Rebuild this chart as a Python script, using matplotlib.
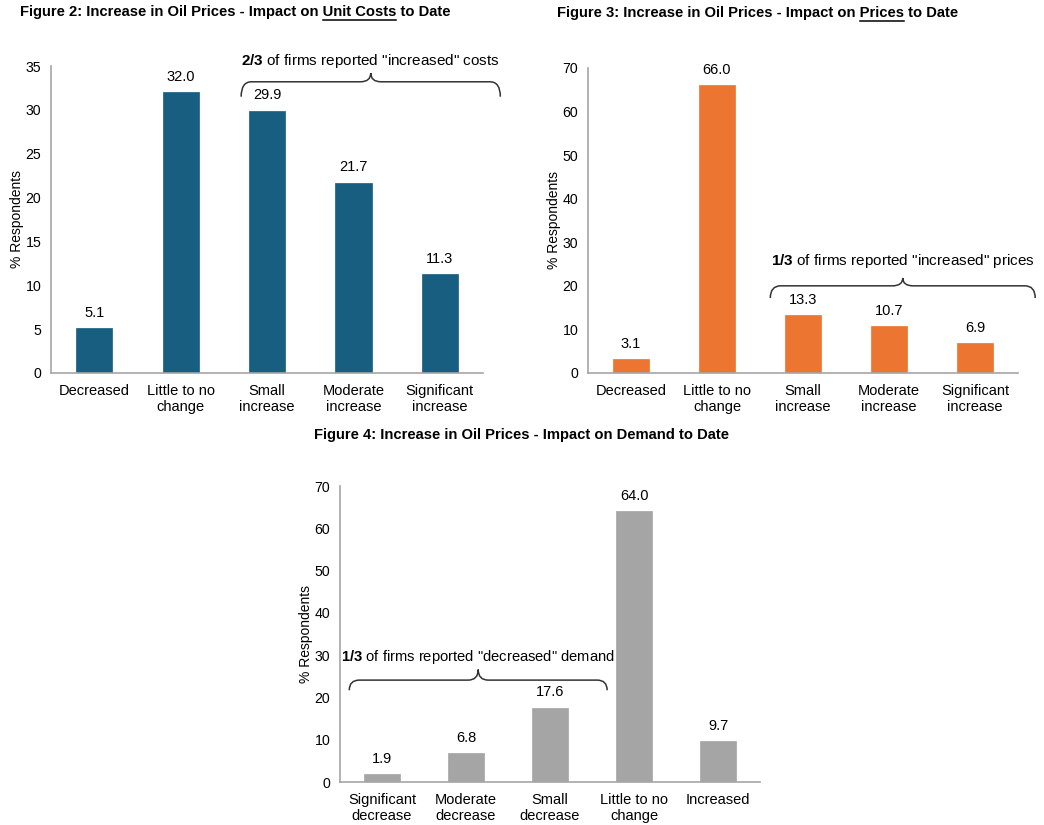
import matplotlib
matplotlib.use("Agg")
import matplotlib.pyplot as plt
from matplotlib.path import Path
from matplotlib.patches import PathPatch

plt.rcParams['font.family'] = ['Liberation Sans', 'DejaVu Sans']
plt.rcParams['mathtext.fontset'] = 'custom'
plt.rcParams['mathtext.rm'] = 'Liberation Sans'
plt.rcParams['mathtext.bf'] = 'Liberation Sans:bold'

# ---- data ----
cost_cats = ["Decreased", "Little to no\nchange", "Small\nincrease", "Moderate\nincrease", "Significant\nincrease"]
cost_vals = [5.1, 32.0, 29.9, 21.7, 11.3]

price_cats = ["Decreased", "Little to no\nchange", "Small\nincrease", "Moderate\nincrease", "Significant\nincrease"]
price_vals = [3.1, 66.0, 13.3, 10.7, 6.9]

demand_cats = ["Significant\ndecrease", "Moderate\ndecrease", "Small\ndecrease", "Little to no\nchange", "Increased"]
demand_vals = [1.9, 6.8, 17.6, 64.0, 9.7]

fig = plt.figure(figsize=(10.44, 8.25), dpi=100)

ax1 = fig.add_axes([0.0489, 0.5479, 0.4138, 0.3721])
ax2 = fig.add_axes([0.5632, 0.5479, 0.4119, 0.3697])
ax3 = fig.add_axes([0.3257, 0.0521, 0.4023, 0.3588])


def style(ax, cats, vals, color, ymax, ystep):
    x = range(len(cats))
    bars = ax.bar(x, vals, width=0.42, color=color, edgecolor=color, linewidth=0.5)
    ax.bar_label(bars, labels=[f"{v:.1f}" for v in vals], padding=6, fontsize=10.5)
    ax.set_xlim(-0.5, len(cats) - 0.5)
    ax.set_ylim(0, ymax)
    ax.set_yticks(range(0, ymax + 1, ystep))
    ax.set_xticks(list(x))
    ax.set_xticklabels(cats, fontsize=10.5, linespacing=1.2)
    ax.tick_params(axis='both', length=0)
    ax.tick_params(axis='y', pad=7, labelsize=10.2)
    ax.tick_params(axis='x', pad=8, labelsize=10.5)
    for s in ['top', 'right']:
        ax.spines[s].set_visible(False)
    for s in ['left', 'bottom']:
        ax.spines[s].set_color('#A6A6A6')
        ax.spines[s].set_linewidth(1.2)
    ax.set_ylabel("% Respondents", fontsize=10, labelpad=1)


style(ax1, cost_cats, cost_vals, '#175E80', 35, 5)
style(ax2, price_cats, price_vals, '#EC7532', 70, 10)
style(ax3, demand_cats, demand_vals, '#A5A5A5', 70, 10)


def brace(ax, x0, x1, ylow, yh, ytip, r=0.12):
    xm = (x0 + x1) / 2
    verts = [(x0, ylow), (x0, yh), (x0 + r, yh),
             (xm - r, yh), (xm, yh), (xm, ytip),
             (xm, yh), (xm + r, yh),
             (x1 - r, yh), (x1, yh), (x1, ylow)]
    codes = [Path.MOVETO, Path.CURVE3, Path.CURVE3,
             Path.LINETO, Path.CURVE3, Path.CURVE3,
             Path.CURVE3, Path.CURVE3,
             Path.LINETO, Path.CURVE3, Path.CURVE3]
    p = PathPatch(Path(verts, codes), facecolor='none', edgecolor='#333333',
                  lw=1.1, clip_on=False)
    ax.add_patch(p)


brace(ax1, 1.70, 4.70, 31.5, 33.2, 34.2)
ax1.text(3.2, 35.6, r'$\mathbf{2/3}$ of firms reported "increased" costs',
         ha='center', va='center', fontsize=11, clip_on=False)

brace(ax2, 1.62, 4.70, 17.2, 20.0, 21.8)
ax2.text(3.16, 25.8, r'$\mathbf{1/3}$ of firms reported "increased" prices',
         ha='center', va='center', fontsize=11, clip_on=False)

brace(ax3, -0.39, 2.68, 21.7, 24.1, 26.6)
ax3.text(1.145, 29.5, r'$\mathbf{1/3}$ of firms reported "decreased" demand',
         ha='center', va='center', fontsize=10.6, clip_on=False)

# ---- titles with underlined part ----
renderer = fig.canvas.get_renderer()


def width_px(s, **kw):
    t = fig.text(0, 0, s + "|", **kw)
    w = t.get_window_extent(renderer).width
    t.remove()
    t2 = fig.text(0, 0, "|", **kw)
    w2 = t2.get_window_extent(renderer).width
    t2.remove()
    return w - w2


def title(xpx, ypx, prefix, under, suffix, ha='left'):
    kw = dict(fontsize=10.6, fontweight='bold')
    full = prefix + under + suffix
    wfull = width_px(full, **kw)
    if ha == 'center':
        xpx = xpx - wfull / 2
    W, H = fig.bbox.width, fig.bbox.height
    fig.text(xpx / W, 1 - ypx / H, full, ha='left', va='center', **kw)
    if under:
        a = width_px(prefix, **kw)
        b = width_px(prefix + under, **kw)
        yl = 1 - (ypx + 8) / H
        fig.add_artist(plt.Line2D([(xpx + a) / W, (xpx + b) / W], [yl, yl],
                                  transform=fig.transFigure, color='black', lw=1.1))


title(20, 12, "Figure 2: Increase in Oil Prices - Impact on ", "Unit Costs", " to Date")
title(557, 13, "Figure 3: Increase in Oil Prices - Impact on ", "Prices", " to Date")
title(521, 435, "Figure 4: Increase in Oil Prices - Impact on Demand to Date", "", "", ha='center')

fig.savefig("out.png", dpi=100)
